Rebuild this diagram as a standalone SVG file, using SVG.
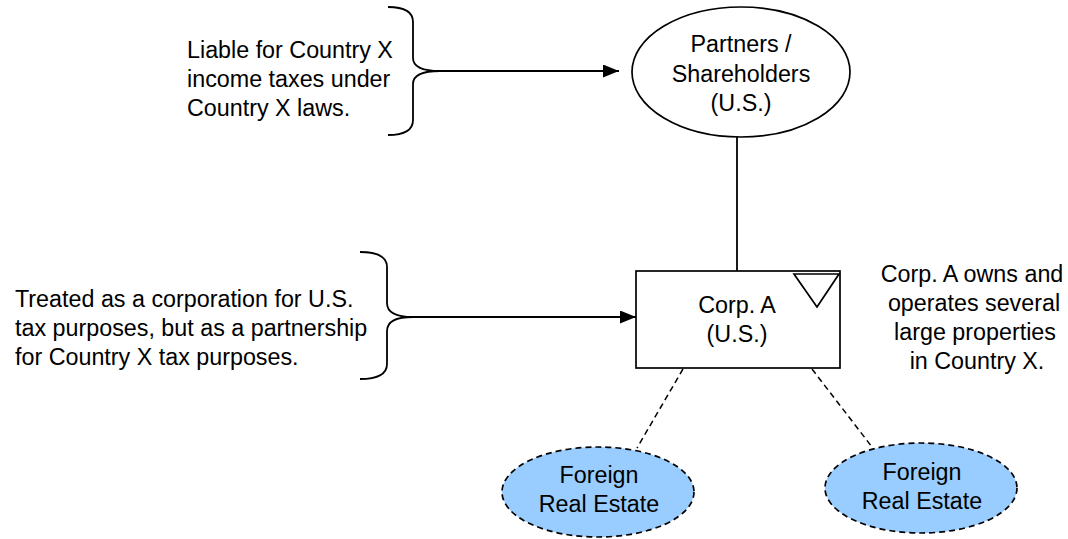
<svg xmlns="http://www.w3.org/2000/svg" width="1068" height="539" viewBox="0 0 1068 539">
<style>
text{font-family:"Liberation Sans",Arial,sans-serif;font-size:23.3px;fill:#000}
.c{text-anchor:middle}
.ln{fill:none;stroke:#000;stroke-width:1.8}
.ds{fill:none;stroke:#000;stroke-width:1.5;stroke-dasharray:6,4}
.re{fill:#99CCFF;stroke:#000;stroke-width:1.7;stroke-dasharray:6,4}
</style>
<defs>
<marker id="ah" viewBox="0 0 16 13" refX="16" refY="6.5" markerWidth="16" markerHeight="13" markerUnits="userSpaceOnUse" orient="auto">
<path d="M0,0 L16,6.5 L0,13 Z" fill="#000"/>
</marker>
</defs>
<g id="connectors">
<path class="ln" d="M440,71 L619,71" marker-end="url(#ah)"/>
<path class="ln" d="M413,317 L636,317" marker-end="url(#ah)"/>
<path class="ln" d="M737,137 L737,271"/>
<path class="ds" d="M683,369 L637,448"/>
<path class="ds" d="M812,369 L872,447"/>
</g>
<g id="brace1">
<path class="ln" d="M388,7 Q413,7 413,22 L413,58 Q413,71 440,71 Q413,71 413,84 L413,120 Q413,135 388,135"/>
<text x="187" y="58">Liable for Country X</text>
<text x="187" y="87">income taxes under</text>
<text x="187" y="116">Country X laws.</text>
</g>
<g id="brace2">
<path class="ln" d="M360,252 Q387,252 387,267 L387,303 Q387,317 413,317 Q387,317 387,331 L387,364 Q387,379 360,379"/>
<text x="15" y="307">Treated as a corporation for U.S.</text>
<text x="15" y="336">tax purposes, but as a partnership</text>
<text x="15" y="365">for Country X tax purposes.</text>
</g>
<g id="partners">
<ellipse cx="741" cy="72" rx="109" ry="65" fill="#fff" stroke="#000" stroke-width="1.7"/>
<text class="c" x="741" y="52">Partners /</text>
<text class="c" x="741" y="82">Shareholders</text>
<text class="c" x="741" y="111">(U.S.)</text>
</g>
<g id="corpA">
<rect x="636" y="271" width="204" height="97" fill="#fff" stroke="#000" stroke-width="1.7"/>
<path d="M794,274 L839,274 L817,307 Z" fill="none" stroke="#000" stroke-width="1.7"/>
<text class="c" x="737" y="313">Corp. A</text>
<text class="c" x="737" y="342">(U.S.)</text>
</g>
<g id="note">
<text class="c" x="972" y="282">Corp. A owns and</text>
<text class="c" x="974" y="311">operates several</text>
<text class="c" x="975" y="340">large properties</text>
<text class="c" x="977" y="369">in Country X.</text>
</g>
<g id="re1">
<ellipse class="re" cx="598" cy="492" rx="96" ry="45"/>
<text class="c" x="599" y="483">Foreign</text>
<text class="c" x="599" y="512">Real Estate</text>
</g>
<g id="re2">
<ellipse class="re" cx="921" cy="488" rx="96" ry="45"/>
<text class="c" x="922" y="480">Foreign</text>
<text class="c" x="922" y="509">Real Estate</text>
</g>
</svg>
